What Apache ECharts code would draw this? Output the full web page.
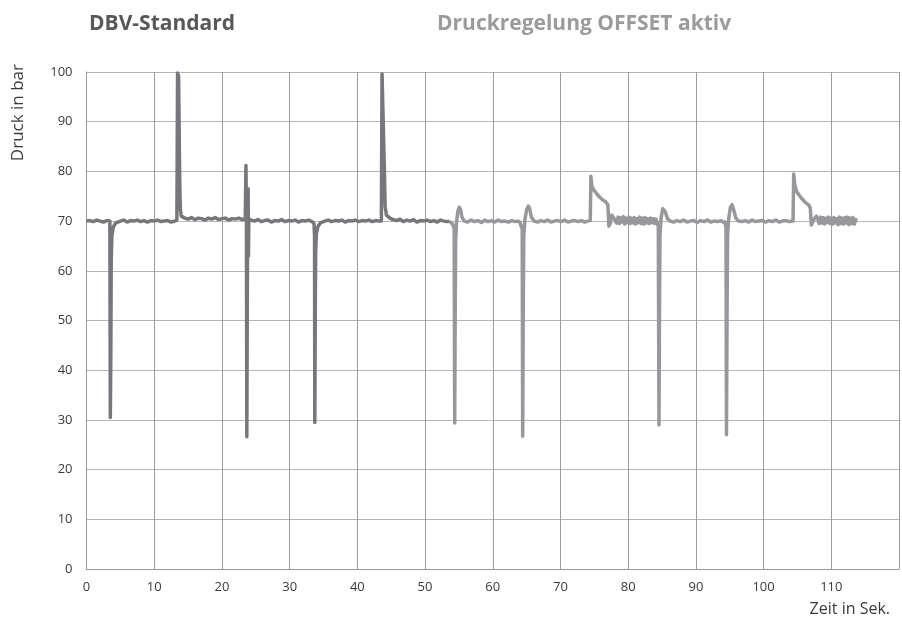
<!DOCTYPE html>
<html>
<head>
<meta charset="utf-8">
<script src="https://cdn.jsdelivr.net/npm/echarts@6/dist/echarts.min.js"></script>
<style>
html,body{margin:0;padding:0;background:#fff;}
#chart{width:902px;height:621px;}
</style>
</head>
<body>
<div id="chart"></div>
<script>
// Titles / axis names
const titleLeft = 'DBV-Standard';
const titleRight = 'Druckregelung OFFSET aktiv';
const yAxisName = 'Druck in bar';
const xAxisName = 'Zeit in Sek.';

// x-axis ticks (seconds) and y-axis ticks (bar)
const xTicks = [0, 10, 20, 30, 40, 50, 60, 70, 80, 90, 100, 110, 120];
const yTicks = [0, 10, 20, 30, 40, 50, 60, 70, 80, 90, 100];

// Series 1: DBV-Standard (time in s)
const dbvTime = [
  0, 0.5, 1.0, 1.5, 2.0, 2.5, 3.0, 3.45, 3.52, 3.6, 3.65, 3.75, 3.95, 4.3, 4.8,
  5.5, 6.0, 6.5, 7.0, 7.5, 8.0, 8.5, 9.0, 9.5, 10.0, 10.5, 11.0, 11.5, 12.0, 12.5, 13.0,
  13.35, 13.45, 13.6, 13.75, 13.85, 14.0, 14.5, 15.0, 15.5, 16.0, 16.5, 17.0, 17.5, 18.0,
  18.5, 19.0, 19.5, 20.0, 20.5, 21.0, 21.5, 22.0, 22.5, 23.0, 23.45,
  23.55, 23.62, 23.68, 23.75, 23.8, 23.87, 23.92, 23.97, 24.3, 24.8, 25.3, 25.8, 26.3,
  26.8, 27.3, 27.8, 28.3, 28.8, 29.3, 29.8, 30.3, 30.8, 31.3, 31.8, 32.3, 32.8, 33.3,
  33.5, 33.6, 33.68, 33.72, 33.8, 33.85, 33.95, 34.2, 34.6, 35.2, 35.7, 36.2, 36.7,
  37.2, 37.7, 38.2, 38.7, 39.2, 39.7, 40.2, 40.7, 41.2, 41.7, 42.2, 42.7, 43.2, 43.55,
  43.65, 43.85, 44.0, 44.1, 44.3, 44.8, 45.3, 45.8, 46.3, 46.8, 47.3, 47.8, 48.3, 48.8,
  49.3, 49.8, 50.3, 50.8, 51.3, 51.8, 52.3, 52.8, 53.2, 53.6
];
const dbvPressure = [
  70.0, 70.1, 69.9, 70.2, 70.0, 69.8, 70.1, 70.0, 30.5, 45, 62, 67, 68.8, 69.6, 69.9,
  70.2, 69.8, 70.1, 70.0, 70.2, 69.9, 70.1, 69.8, 70.1, 70.0, 70.2, 69.9, 70.0, 70.1, 69.8, 70.0,
  70.2, 99.8, 99.2, 80, 72.5, 71.0, 70.6, 70.4, 70.7, 70.3, 70.6, 70.5, 70.2, 70.6,
  70.4, 70.7, 70.3, 70.5, 70.6, 70.2, 70.5, 70.4, 70.6, 70.3, 70.5,
  81.2, 70.0, 26.6, 55, 69, 76.5, 63, 70.5, 70.2, 70.0, 70.3, 69.9, 70.1,
  70.2, 69.8, 70.1, 70.0, 70.3, 69.9, 70.1, 70.0, 70.2, 69.8, 70.1, 70.0, 70.2, 69.9,
  70.1, 69.5, 67.0, 29.5, 55, 64, 67.5, 69.0, 69.7, 70.0, 70.2, 69.9, 70.1,
  70.0, 70.2, 69.8, 70.1, 70.0, 70.2, 69.9, 70.1, 70.0, 70.2, 69.9, 70.1, 70.0, 70.0,
  99.6, 99.2, 80, 73, 71.2, 70.6, 70.3, 70.1, 70.4, 69.9, 70.2, 70.0, 70.3, 69.8,
  70.1, 70.0, 70.2, 69.9, 70.1, 69.8, 70.2, 70.0, 69.9, 70.0
];

// Series 2: Druckregelung OFFSET aktiv
const offsetTime = [
  53.6, 53.8, 54.1, 54.3, 54.38, 54.45, 54.52, 54.65, 54.85, 55.05, 55.25, 55.45, 55.8,
  56.3, 56.8, 57.3, 57.8, 58.3, 58.8, 59.3, 59.8, 60.3, 60.8, 61.3, 61.8, 62.3, 62.8,
  63.3, 63.7, 64.0, 64.2, 64.35, 64.42, 64.5, 64.58, 64.75, 65.0, 65.25, 65.45, 65.7,
  66.1, 66.6, 67.1, 67.6, 68.1, 68.6, 69.1, 69.6, 70.1, 70.6, 71.1, 71.6, 72.1, 72.6,
  73.1, 73.6, 74.0, 74.4, 74.5, 74.65, 74.9, 75.3, 75.8, 76.3, 76.6, 76.85, 77.0, 77.15,
  77.35, 77.6, 77.9, 78.1, 78.3, 78.5, 78.7, 78.9, 79.1, 79.3, 79.5, 79.7, 79.9, 80.1,
  80.3, 80.5, 80.7, 80.9, 81.1, 81.3, 81.5, 81.7, 81.9, 82.1, 82.3, 82.5, 82.7, 82.9,
  83.1, 83.3, 83.5, 83.7, 83.9, 84.1, 84.3, 84.45, 84.55, 84.62, 84.7, 84.85, 85.1,
  85.3, 85.5, 85.8, 86.2, 86.7, 87.2, 87.7, 88.2, 88.7, 89.2, 89.7, 90.2, 90.7, 91.2,
  91.7, 92.2, 92.7, 93.2, 93.7, 94.0, 94.3, 94.45, 94.52, 94.6, 94.68, 94.85, 95.1,
  95.35, 95.6, 95.9, 96.3, 96.8, 97.3, 97.8, 98.3, 98.8, 99.3, 99.8, 100.3, 100.8,
  101.3, 101.8, 102.3, 102.8, 103.3, 103.8, 104.35, 104.45, 104.6, 104.8, 105.2, 105.6,
  106.0, 106.4, 106.7, 106.9, 107.05, 107.25, 107.5, 107.8, 108.0, 108.2, 108.4, 108.6,
  108.8, 109.0, 109.2, 109.4, 109.6, 109.8, 110.0, 110.2, 110.4, 110.6, 110.8, 111.0,
  111.2, 111.4, 111.6, 111.8, 112.0, 112.2, 112.4, 112.6, 112.8, 113.0, 113.2, 113.4, 113.7
];
const offsetPressure = [
  70.0, 69.8, 69.3, 68.6, 29.4, 50, 66, 69.8, 72.0, 72.8, 72.3, 70.8, 70.0,
  69.8, 70.2, 69.9, 70.1, 69.7, 70.2, 69.9, 70.1, 69.8, 70.2, 69.9, 70.0, 69.8, 70.1,
  69.9, 70.0, 69.8, 69.0, 68.4, 26.7, 50, 67, 70.3, 72.3, 73.0, 72.5, 70.8,
  70.0, 69.8, 70.1, 69.9, 70.2, 69.8, 70.0, 70.1, 69.9, 70.2, 69.8, 70.0, 70.1, 69.9,
  70.1, 69.8, 70.0, 70.1, 79.0, 77.0, 76.3, 75.6, 74.8, 74.2, 74.0, 73.8, 73.3, 69.0,
  69.5, 71.2, 70.6, 70.9, 69.6, 70.8, 69.5, 70.7, 69.8, 70.9, 69.4, 70.6, 69.7, 70.8,
  69.5, 70.6, 69.6, 70.7, 69.4, 70.5, 69.7, 70.8, 69.5, 70.6, 69.4, 70.7, 69.6, 70.5,
  69.5, 70.6, 69.7, 70.5, 69.5, 70.4, 70.0, 69.0, 29.0, 50, 67, 70.5, 72.5,
  72.8, 71.8, 70.5, 70.0, 69.8, 70.1, 69.9, 70.2, 69.8, 70.0, 70.1, 69.7, 70.1, 69.9,
  70.2, 69.8, 70.0, 69.9, 70.1, 69.8, 69.8, 68.6, 27.0, 50, 67, 70.5, 72.8,
  73.3, 72.2, 70.6, 70.0, 69.9, 70.1, 69.8, 70.2, 69.9, 70.0, 70.1, 69.8, 70.1,
  69.9, 70.2, 69.8, 70.0, 70.1, 69.9, 70.0, 79.5, 77.5, 76.2, 75.3, 74.6,
  74.0, 73.5, 73.2, 72.6, 69.2, 69.0, 70.5, 71.0, 70.4, 69.5, 70.8, 69.6, 70.7,
  69.4, 70.6, 69.7, 70.8, 69.5, 70.6, 69.4, 70.7, 69.6, 70.5, 69.3, 70.8, 69.5,
  70.6, 69.4, 70.7, 69.6, 70.8, 69.3, 70.6, 69.5, 70.7, 69.4, 70.6, 69.5, 70.4
];

function pairs(t, v) { return t.map((x, i) => [x, v[i]]); }

const chart = echarts.init(document.getElementById('chart'), null, {renderer: 'canvas'});
const font = '"Open Sans", "Noto Sans", sans-serif';

chart.setOption({
  animation: false,
  backgroundColor: '#ffffff',
  textStyle: {fontFamily: font},
  title: [
    {text: titleLeft, left: 84, top: 9,
     textStyle: {fontFamily: font, fontSize: 21, fontWeight: 'bold', color: '#58585b'}},
    {text: titleRight, left: 432, top: 9,
     textStyle: {fontFamily: font, fontSize: 21, fontWeight: 'bold', color: '#9b9b9e'}}
  ],
  grid: {left: 86.5, right: 3, top: 72, bottom: 52, containLabel: false, outerBoundsMode: 'none'},
  xAxis: {
    type: 'value', min: xTicks[0], max: xTicks[xTicks.length - 1], interval: 10,
    axisLine: {show: true, lineStyle: {color: '#9a9a9a', width: 1}},
    axisTick: {show: false},
    axisLabel: {color: '#3a3a3a', fontSize: 13, margin: 12, fontFamily: font,
      formatter: v => (v === 120 ? '' : String(v))},
    splitLine: {show: true, lineStyle: {color: '#9c9c9c', width: 1}}
  },
  yAxis: {
    type: 'value', min: yTicks[0], max: yTicks[yTicks.length - 1], interval: 10,
    axisLine: {show: true, lineStyle: {color: '#9a9a9a', width: 1}},
    axisTick: {show: false},
    axisLabel: {color: '#3a3a3a', fontSize: 13, margin: 14, fontFamily: font},
    splitLine: {show: true, lineStyle: {color: '#b6b6b6', width: 1}}
  },
  graphic: [
    {type: 'text', left: 10, top: 64, rotation: Math.PI / 2,
     style: {text: yAxisName, fontFamily: font, fontSize: 17, fill: '#3a3a3a'}},
    {type: 'text', right: 12, top: 601,
     style: {text: xAxisName, fontFamily: font, fontSize: 16, fill: '#3a3a3a'}}
  ],
  series: [
    {type: 'line', name: titleLeft, data: pairs(dbvTime, dbvPressure), showSymbol: false,
     lineStyle: {color: '#77777b', width: 3.5, join: 'round'}, z: 3},
    {type: 'line', name: titleRight, data: pairs(offsetTime, offsetPressure), showSymbol: false,
     lineStyle: {color: '#98989c', width: 3.5, join: 'round'}, z: 2}
  ]
});
</script>
</body>
</html>
